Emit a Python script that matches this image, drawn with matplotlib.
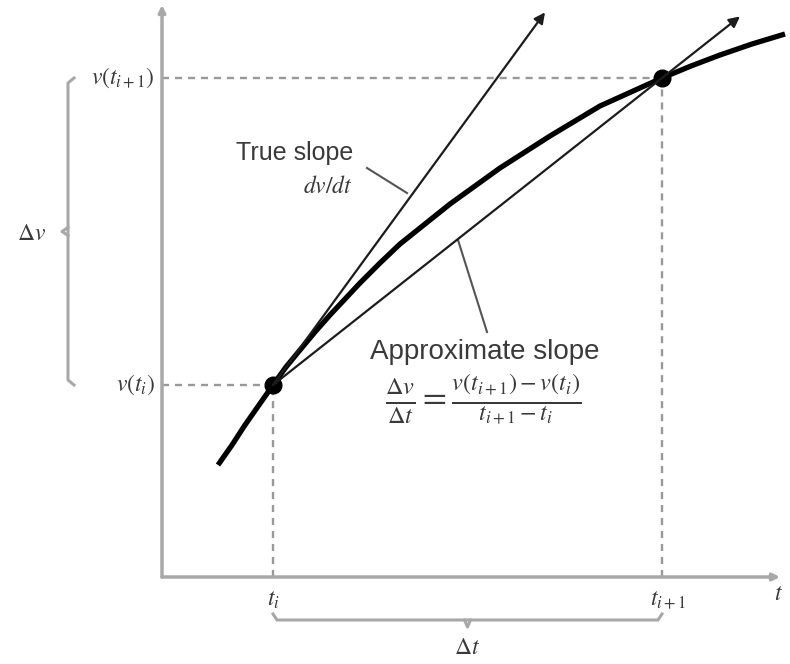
import matplotlib
matplotlib.use('Agg')
from matplotlib import pyplot as plt

plt.rcParams.update({
  'font.family': 'Liberation Sans',
  'mathtext.fontset': 'stix',
})

# curve v(t) (origin at the axes corner)
curve_t = [56, 70, 83, 97, 111, 124, 138, 153, 168, 183, 198, 218, 238, 263, 288, 313,
           338, 363, 388, 413, 438, 469, 500, 529, 558, 590, 623]
curve_v = [112, 132, 152, 172, 192, 210, 227, 245, 262, 278, 294, 314, 333, 353, 373, 391,
           409, 425, 441, 456, 471, 485, 499, 511, 522, 533, 543]

# the two marked points
t_i, v_i = 111, 192
t_ip1, v_ip1 = 500, 499

# true slope at t_i and where both slope arrows end
true_slope = 1.37
tangent_end_t = 383
secant_end_t = 578

axis_t_end = 618
axis_v_end = 572

ink = '#1c1c1c'
grey = '#a8a8a8'
text_c = '#3a3a3a'

fig = plt.figure(figsize=(7.9, 6.64), dpi=100)
ax = fig.add_axes([0, 0, 1, 1])
ax.set_xlim(-162, 628)
ax.set_ylim(-87, 577)
ax.axis('off')

# axes with small arrow heads
ax.annotate('', xy=(axis_t_end, 0), xytext=(0, 0),
            arrowprops=dict(arrowstyle='-|>', color=grey, lw=2.5,
                            mutation_scale=10, shrinkA=0, shrinkB=0))
ax.annotate('', xy=(0, axis_v_end), xytext=(0, 0),
            arrowprops=dict(arrowstyle='-|>', color=grey, lw=2.5,
                            mutation_scale=10, shrinkA=0, shrinkB=0))

# dashed guides
for t, v in [(t_i, v_i), (t_ip1, v_ip1)]:
  ax.plot([0, t], [v, v], ls=(0, (3, 2.5)), color='#999999', lw=1.7)
  ax.plot([t, t], [0, v], ls=(0, (3, 2.5)), color='#999999', lw=1.7)

# tangent (true slope)
ax.annotate('', xy=(tangent_end_t, v_i + true_slope * (tangent_end_t - t_i)),
            xytext=(t_i, v_i),
            arrowprops=dict(arrowstyle='-|>', color=ink, lw=1.6,
                            mutation_scale=16, shrinkA=0, shrinkB=0))

# secant (approximate slope)
sec_slope = (v_ip1 - v_i) / (t_ip1 - t_i)
ax.annotate('', xy=(secant_end_t, v_i + sec_slope * (secant_end_t - t_i)),
            xytext=(t_i, v_i),
            arrowprops=dict(arrowstyle='-|>', color=ink, lw=1.6,
                            mutation_scale=16, shrinkA=0, shrinkB=0))

# the curve
ax.plot(curve_t, curve_v, color='black', lw=3.8, solid_capstyle='butt')
ax.plot([t_i, t_ip1], [v_i, v_ip1], 'o', color='black', ms=12)

# leader lines
ax.plot([205, 245], [409, 384], color='#555555', lw=1.5)
ax.plot([296, 325], [337, 245], color='#555555', lw=1.5)

# labels
ax.text(191, 424, 'True slope', ha='right', va='center', fontsize=18, color=text_c)
ax.text(191, 390, r'$dv/dt$', ha='right', va='center', fontsize=17, color=text_c)
ax.text(208, 225, 'Approximate slope', ha='left', va='center', fontsize=20, color=text_c)
ax.text(223, 177, r'$\frac{\Delta v}{\Delta t} = \frac{v(t_{i+1}) - v(t_i)}{t_{i+1} - t_i}$',
        ha='left', va='center', fontsize=25, color=text_c)

ax.text(-7, v_ip1, r'$v(t_{i+1})$', ha='right', va='center', fontsize=17, color=text_c)
ax.text(-7, v_i, r'$v(t_i)$', ha='right', va='center', fontsize=17, color=text_c)
ax.text(t_i, -23, r'$t_i$', ha='center', va='center', fontsize=17, color=text_c)
ax.text(t_ip1 + 6, -23, r'$t_{i+1}$', ha='center', va='center', fontsize=17, color=text_c)
ax.text(616, -17, r'$t$', ha='center', va='center', fontsize=17, color=text_c)

# brackets for the differences
ax.plot([t_i, t_i + 4, t_ip1 - 4, t_ip1], [-37, -43, -43, -37], color=grey, lw=2.2)
ax.plot([(t_i + t_ip1) / 2 - 3, (t_i + t_ip1) / 2, (t_i + t_ip1) / 2 + 3],
        [-43, -50, -43], color=grey, lw=2.2)
ax.text((t_i + t_ip1) / 2, -71, r'$\Delta t$', ha='center', va='center', fontsize=17, color=text_c)

ax.plot([-88, -94, -94, -88], [v_ip1, v_ip1 - 5, v_i + 5, v_i], color=grey, lw=2.2)
mid_v = (v_i + v_ip1) / 2
ax.plot([-94, -100, -94], [mid_v + 4, mid_v, mid_v - 4], color=grey, lw=2.2)
ax.text(-130, mid_v - 3, r'$\Delta v$', ha='center', va='center', fontsize=17, color=text_c)

fig.savefig('out.png', dpi=100)
